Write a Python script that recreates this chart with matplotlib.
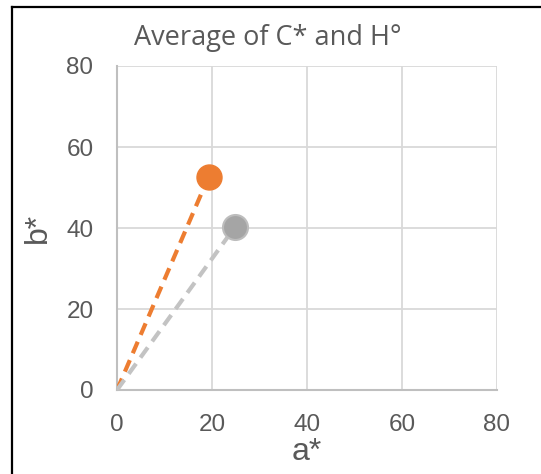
import matplotlib
matplotlib.use("Agg")
import matplotlib.pyplot as plt
from matplotlib.lines import Line2D

# series: from origin to average point
orange_a = [0, 19.3]
orange_b = [0, 52.7]
gray_a = [0, 24.8]
gray_b = [0, 40.2]
ticks = [0, 20, 40, 60, 80]

TXT = "#595959"
fig = plt.figure(figsize=(5.41, 4.74), dpi=100)
ax = fig.add_axes([117/541, 1 - 390/474, 380/541, 324/474])

ax.plot(orange_a, orange_b, ls=(0, (3, 1.8)), lw=3, color="#ED7D31", zorder=3)
ax.plot(gray_a, gray_b, ls=(0, (3, 1.8)), lw=3, color="#C3C3C3", zorder=3)
ax.plot(orange_a[-1:], orange_b[-1:], "o", ms=18, color="#ED7D31",
        mec="#ED7D31", zorder=4, clip_on=False)
ax.plot(gray_a[-1:], gray_b[-1:], "o", ms=18, color="#A5A5A5",
        mec="#BDBDBD", mew=1.5, zorder=4, clip_on=False)

ax.set_xlim(0, 80)
ax.set_ylim(0, 80)
ax.set_xticks(ticks)
ax.set_yticks(ticks)
ax.grid(True, color="#D9D9D9", lw=1.3)
ax.set_axisbelow(True)
for s in ["top", "right"]:
    ax.spines[s].set_visible(False)
for s in ["left", "bottom"]:
    ax.spines[s].set_color("#BFBFBF")
    ax.spines[s].set_linewidth(1.5)
ax.tick_params(length=0, labelsize=17.5, labelcolor=TXT, pad=17)
for lab in ax.get_xticklabels() + ax.get_yticklabels():
    lab.set_family("Liberation Sans")

fig.text(0.495, 1 - 38/474, "Average of C* and H°", ha="center", va="center",
         fontsize=19.5, color=TXT, family="Open Sans")
fig.text(307/541, 1 - 452/474, "a*", ha="center", va="center",
         fontsize=23, color=TXT, family="Liberation Sans")
fig.text(38/541, 1 - 228/474, "b*", ha="center", va="center", rotation=90,
         fontsize=23, color=TXT, family="Liberation Sans")

# chart border (left and top edges visible)
fig.add_artist(Line2D([12/541, 12/541], [0, 1 - 7/474], color="black", lw=1.6,
                      transform=fig.transFigure))
fig.add_artist(Line2D([12/541, 1], [1 - 7/474, 1 - 7/474], color="black", lw=1.6,
                      transform=fig.transFigure))

fig.savefig("out.png", dpi=100)
